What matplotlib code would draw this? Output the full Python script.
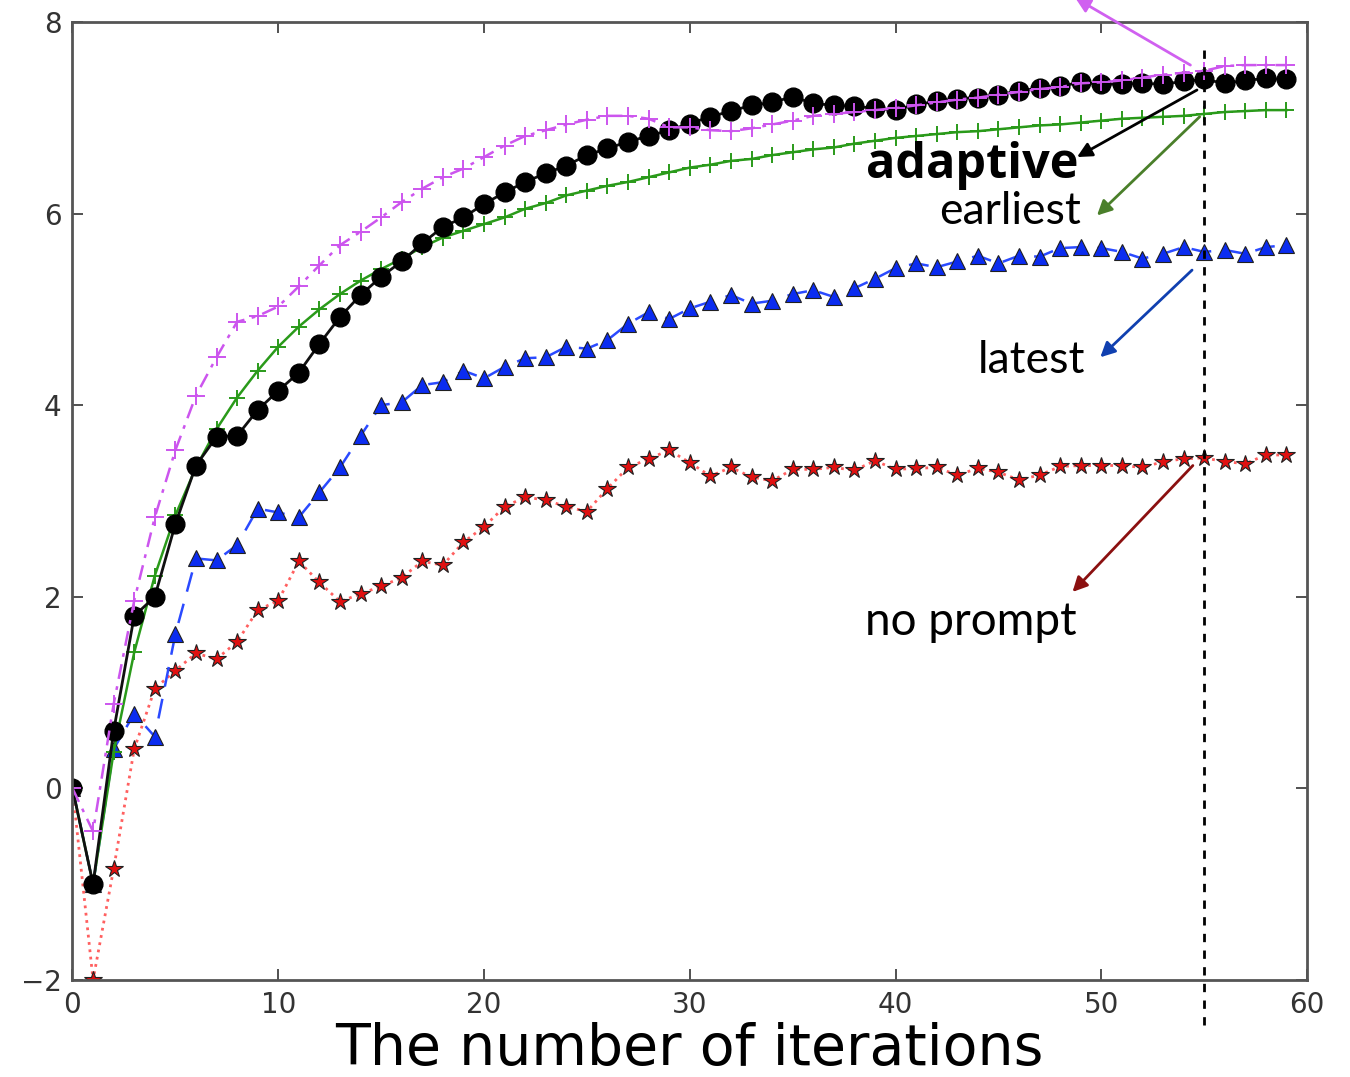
import numpy as np
import matplotlib
matplotlib.use("Agg")
import matplotlib.pyplot as plt

# iteration index and averaged scores per strategy
iters = np.arange(60)

adaptive = [0, -1.0, 0.6, 1.8, 2.0, 2.76, 3.37, 3.67, 3.68, 3.95,
            4.15, 4.34, 4.64, 4.92, 5.15, 5.34, 5.5, 5.69, 5.86, 5.96,
            6.1, 6.22, 6.33, 6.42, 6.5, 6.61, 6.68, 6.75, 6.81, 6.87,
            6.94, 7.01, 7.07, 7.13, 7.16, 7.22, 7.15, 7.13, 7.12, 7.10,
            7.08, 7.14, 7.17, 7.20, 7.21, 7.24, 7.28, 7.31, 7.33, 7.37,
            7.35, 7.35, 7.36, 7.35, 7.38, 7.40, 7.36, 7.39, 7.41, 7.40]

earliest = [0, -1.0, 0.38, 1.42, 2.22, 2.85, 3.35, 3.75, 4.08, 4.36,
            4.61, 4.82, 5.0, 5.16, 5.30, 5.42, 5.53, 5.65, 5.75, 5.82,
            5.89, 5.96, 6.05, 6.11, 6.19, 6.24, 6.29, 6.33, 6.38, 6.43,
            6.48, 6.51, 6.55, 6.57, 6.61, 6.64, 6.67, 6.69, 6.73, 6.76,
            6.79, 6.81, 6.83, 6.85, 6.86, 6.88, 6.90, 6.92, 6.93, 6.95,
            6.97, 6.99, 7.00, 7.01, 7.02, 7.04, 7.06, 7.07, 7.08, 7.08]

latest = [0, -1.0, 0.41, 0.78, 0.54, 1.61, 2.40, 2.38, 2.54, 2.92,
          2.88, 2.83, 3.09, 3.35, 3.68, 4.0, 4.03, 4.21, 4.24, 4.36,
          4.28, 4.40, 4.49, 4.50, 4.61, 4.59, 4.68, 4.85, 4.97, 4.90,
          5.01, 5.08, 5.15, 5.06, 5.09, 5.16, 5.20, 5.13, 5.22, 5.32,
          5.43, 5.48, 5.44, 5.50, 5.56, 5.48, 5.56, 5.55, 5.64, 5.65,
          5.64, 5.60, 5.53, 5.58, 5.65, 5.60, 5.62, 5.58, 5.65, 5.67]

no_prompt = [0, -2.0, -0.84, 0.41, 1.04, 1.23, 1.41, 1.35, 1.53, 1.86,
             1.96, 2.37, 2.15, 1.95, 2.03, 2.11, 2.20, 2.37, 2.33, 2.57,
             2.73, 2.94, 3.04, 3.01, 2.94, 2.89, 3.13, 3.35, 3.44, 3.53,
             3.40, 3.26, 3.35, 3.25, 3.21, 3.33, 3.33, 3.35, 3.32, 3.42,
             3.33, 3.34, 3.35, 3.27, 3.34, 3.30, 3.22, 3.27, 3.36, 3.37,
             3.37, 3.37, 3.35, 3.41, 3.44, 3.45, 3.41, 3.39, 3.48, 3.48]

upper = [0, -0.45, 0.88, 1.96, 2.83, 3.53, 4.10, 4.50, 4.87, 4.93,
         5.03, 5.24, 5.46, 5.67, 5.81, 5.96, 6.12, 6.26, 6.38, 6.47,
         6.59, 6.71, 6.81, 6.87, 6.93, 6.98, 7.02, 7.02, 6.99, 6.90,
         6.90, 6.87, 6.86, 6.89, 6.93, 6.97, 7.02, 7.04, 7.06, 7.08,
         7.10, 7.13, 7.16, 7.19, 7.21, 7.24, 7.27, 7.30, 7.32, 7.36,
         7.37, 7.39, 7.42, 7.45, 7.47, 7.49, 7.54, 7.55, 7.55, 7.55]

cut = 55

fig = plt.figure(figsize=(13.5, 10.77), dpi=100)
ax = fig.add_axes([0.0537, 0.0901, 0.9145, 0.8895])

ax.plot(iters, no_prompt, ':', color='#ff6060', lw=2, marker='*', ms=13,
        mfc='#e01010', mec='#202020', mew=0.8)
ax.plot(iters, latest, '--', color='#2a4aff', lw=1.8, dashes=(8, 5), marker='^', ms=12,
        mfc='#0b2cf0', mec='#202020', mew=0.8)
ax.plot(iters, earliest, '-', color='#2a9a1a', lw=1.8, marker='+', ms=12, mew=1.4)
ax.plot(iters, adaptive, '-', color='#101010', lw=2, marker='o', ms=13.5,
        mfc='black', mec='black')
ax.plot(iters, upper, color='#cc55ee', lw=1.8, dashes=(6, 3, 1.5, 3),
        marker='+', ms=13, mew=1.4)

ax.axvline(cut, ymin=-0.047, ymax=0.972, color='black', lw=2,
           ls=(0, (3, 3)), clip_on=False)

ax.set_xlim(0, 60)
ax.set_ylim(-2, 8)
ax.set_xticks(range(0, 61, 10))
ax.set_yticks(range(-2, 9, 2))
ax.set_yticklabels(['\u22122', '0', '2', '4', '6', '8'])
ax.tick_params(direction='in', length=8, width=1.2, top=True, right=True,
               labelsize=20, colors='#333333', pad=8)
for s in ax.spines.values():
    s.set_color('#555555')
    s.set_linewidth(2)
ax.set_xlabel('The number of iterations', fontsize=41, labelpad=2)

# callouts for each curve at the cut-off iteration
arrows = [
    ((54.33, 7.55), (48.74, 8.25), '#d060f0'),
    ((54.65, 7.29), (48.82, 6.59), 'black'),
    ((54.78, 7.01), (49.79, 5.98), '#4a7f2a'),
    ((54.41, 5.41), (49.95, 4.50), '#1040b0'),
    ((54.45, 3.37), (48.60, 2.05), '#8b1010'),
]
for tail, head, col in arrows:
    ax.annotate('', xy=head, xytext=tail, annotation_clip=False,
                arrowprops=dict(arrowstyle='-|>', color=col, lw=2,
                                mutation_scale=22, shrinkA=0, shrinkB=0))

ax.text(48.9, 6.37, 'adaptive', ha='right', va='baseline', fontsize=35,
        fontweight='bold', family='Open Sans')
ax.text(49.0, 5.89, 'earliest', ha='right', va='baseline', fontsize=32, family='Lato')
ax.text(49.2, 4.34, 'latest', ha='right', va='baseline', fontsize=32, family='Lato')
ax.text(48.8, 1.60, 'no prompt', ha='right', va='baseline', fontsize=33, family='Lato')

fig.savefig('out.png', dpi=100)
